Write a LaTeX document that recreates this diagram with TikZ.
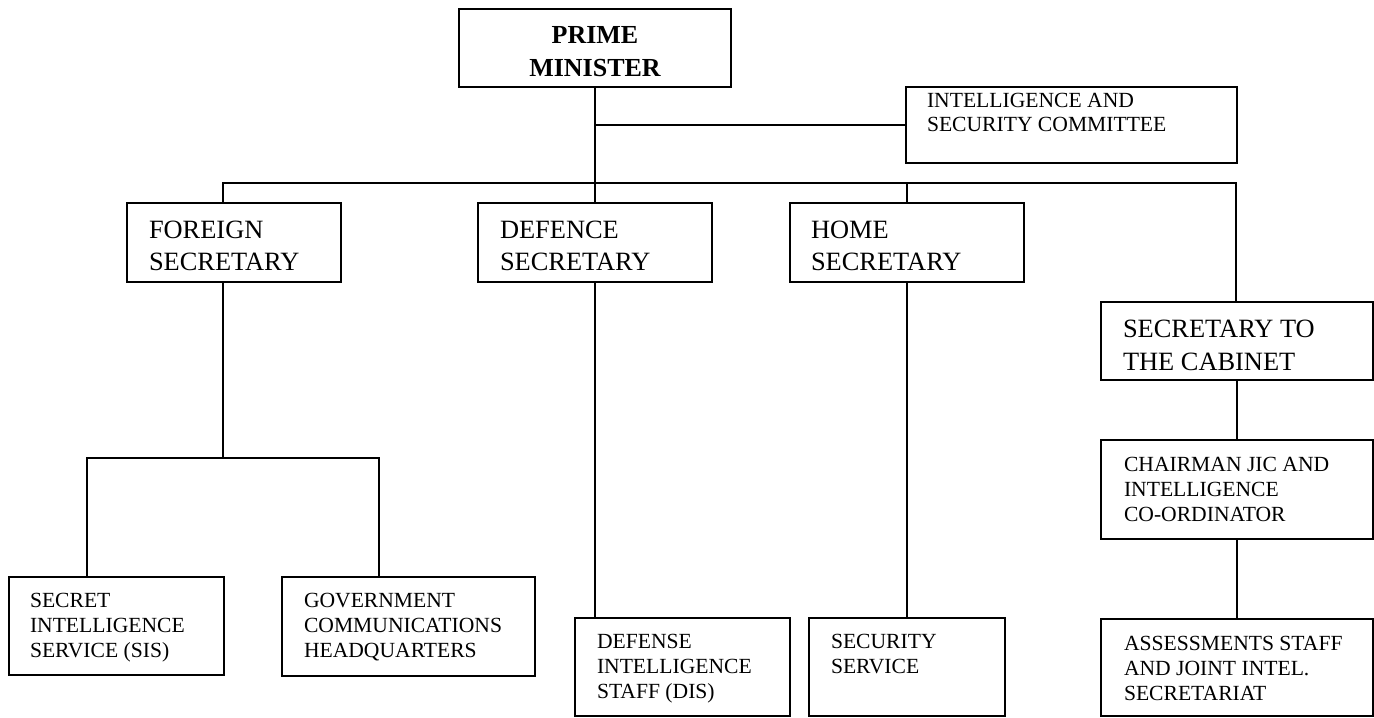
\documentclass[tikz,border=0pt]{standalone}
\usepackage{fontspec}
\setmainfont{Liberation Serif}
\newcommand{\bxt}[5]{\parbox[t][#2][t]{#1}{\raggedright\leftskip=#4\relax\rule{0pt}{#3}#5}}
\newcommand{\bxc}[4]{\parbox[t][#2][t]{#1}{\centering\rule{0pt}{#3}#4}}
\begin{document}
\begin{tikzpicture}[x=0.5pt,y=-0.5pt,
  box/.style={draw, line width=1pt, inner sep=0pt, anchor=north west},
  big/.style={box, font=\fontsize{13.2pt}{16.3pt}\selectfont},
  small/.style={box, font=\fontsize{10.8pt}{12.5pt}\selectfont},
  conn/.style={line width=1pt}]
\useasboundingbox (0,0) rectangle (1374,717);
% boxes
\node[box, font=\bfseries\fontsize{13pt}{16.3pt}\selectfont] (pm) at (458,8) {\bxc{136pt}{39pt}{17.5pt}{PRIME\\MINISTER}};
\node[box, font=\fontsize{10.8pt}{11.7pt}\selectfont] (isc) at (905,86) {\bxt{165.5pt}{38pt}{10.4pt}{10.5pt}{INTELLIGENCE AND\\SECURITY COMMITTEE}};
\node[big] (fs) at (126,202) {\bxt{107pt}{39.5pt}{17.5pt}{11pt}{FOREIGN\\SECRETARY}};
\node[big] (def) at (477,202) {\bxt{117pt}{39.5pt}{17.5pt}{11pt}{DEFENCE\\SECRETARY}};
\node[big] (hs) at (789,202) {\bxt{117pt}{39.5pt}{17.5pt}{10.5pt}{HOME\\SECRETARY}};
\node[big] (cab) at (1100,301) {\bxt{136pt}{39pt}{17.8pt}{11pt}{SECRETARY TO\\THE CABINET}};
\node[small] (sis) at (8,576) {\bxt{107.5pt}{49pt}{15.3pt}{10.5pt}{SECRET\\INTELLIGENCE\\SERVICE (SIS)}};
\node[small] (gchq) at (281,576) {\bxt{126.5pt}{49.5pt}{15.3pt}{11pt}{GOVERNMENT\\COMMUNICATIONS\\HEADQUARTERS}};
\node[small] (dis) at (574,617) {\bxt{107.5pt}{49pt}{15pt}{11pt}{DEFENSE\\INTELLIGENCE\\STAFF (DIS)}};
\node[small] (sec) at (808,617) {\bxt{98pt}{49pt}{15.3pt}{11pt}{SECURITY\\SERVICE}};
\node[small] (chm) at (1100,439) {\bxt{136pt}{49.5pt}{15.8pt}{11.5pt}{CHAIRMAN JIC AND\\INTELLIGENCE\\CO-ORDINATOR}};
\node[small] (ass) at (1100,618) {\bxt{136pt}{48.5pt}{15.6pt}{11.5pt}{ASSESSMENTS STAFF\\AND JOINT INTEL.\\SECRETARIAT}};
% junctions
\coordinate (jF) at (223,183);
\coordinate (jC) at (1236,183);
\coordinate (jS) at (223,458);
\coordinate (jSL) at (87,458);
\coordinate (jSR) at (379,458);
% connectors
\draw[conn] (pm.south) -- (pm.south |- def.north);
\draw[conn] (pm.south |- isc.west) -- (isc.west);
\draw[conn] (jF |- fs.north) -- (jF) -- (jC) -- (jC |- cab.north);
\draw[conn] (hs.north) -- (hs.north |- jF);
\draw[conn] (jF |- fs.south) -- (jS);
\draw[conn] (jSL |- sis.north) -- (jSL) -- (jSR) -- (jSR |- gchq.north);
\draw[conn] (def.south) -- (def.south |- dis.north);
\draw[conn] (hs.south) -- (hs.south |- sec.north);
\draw[conn] (cab.south) -- (cab.south |- chm.north);
\draw[conn] (chm.south) -- (chm.south |- ass.north);
\end{tikzpicture}
\end{document}
